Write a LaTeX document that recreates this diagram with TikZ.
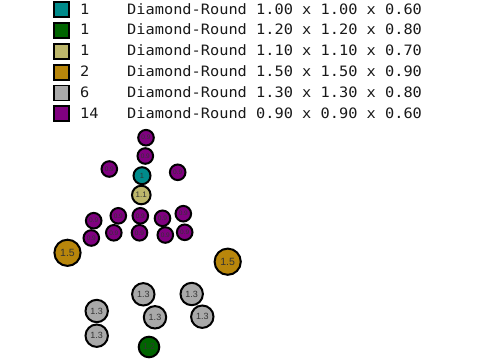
\documentclass[tikz,border=0pt]{standalone}
\usepackage{fontspec}
\setmainfont{Liberation Sans}
\newfontfamily\legendfont[FakeStretch=1.07]{DejaVu Sans Mono}
\definecolor{cteal}{RGB}{0,139,139}
\definecolor{cgreen}{RGB}{0,100,0}
\definecolor{ckhaki}{RGB}{189,183,107}
\definecolor{cgold}{RGB}{184,134,11}
\definecolor{cgray}{RGB}{169,169,169}
\definecolor{cpurple}{RGB}{128,0,128}
\tikzset{
  swatch/.style={draw=black, line width=1.8pt, minimum width=15pt, minimum height=15pt, inner sep=0pt, fill=#1},
  legtxt/.style={anchor=base west, inner sep=0pt, font=\legendfont\fontsize{14.3}{15}\selectfont, text=black!90},
  ball/.style n args={3}{circle, draw=black, line width=2pt, fill=#1, minimum size=#2, inner sep=0pt, font=\fontsize{#3}{#3}\selectfont, text=black!80},
  p/.style={ball={cpurple}{15.6pt}{6.5}},
  t/.style={ball={cteal}{17pt}{7.5}},
  k/.style={ball={ckhaki}{18.6pt}{8}},
  g/.style={ball={cgreen}{20.6pt}{8.5}},
  s/.style={ball={cgray}{22.4pt}{9}},
  o/.style={ball={cgold}{26.2pt}{10.5}},
}
\begin{document}
\begin{tikzpicture}[x=1pt,y=-1pt]
\useasboundingbox (0,0) rectangle (480,360);
% legend
\foreach \i/\c/\n/\d in {0/cteal/1/{1.00 x 1.00 x 0.60},1/cgreen/1/{1.20 x 1.20 x 0.80},2/ckhaki/1/{1.10 x 1.10 x 0.70},3/cgold/2/{1.50 x 1.50 x 0.90},4/cgray/6/{1.30 x 1.30 x 0.80},5/cpurple/14/{0.90 x 0.90 x 0.60}}{
  \node[swatch=\c] (sw\i) at (61.5,{9.8+20.8*\i}) {};
  \node[legtxt] (n\i) at (80,{14+20.8*\i}) {\n};
  \node[legtxt] (d\i) at (127,{14+20.8*\i}) {Diamond-Round \d};
}
% purple
\node[p] (p1) at (146,137.7) {0.9};
\node[p] (p2) at (145.3,156) {0.9};
\node[p] (p3) at (109.3,169) {0.9};
\node[p] (p4) at (177.7,172.3) {0.9};
\node[p] (p5) at (93.7,220.7) {0.9};
\node[p] (p6) at (118.3,215.8) {0.9};
\node[p] (p7) at (140.3,215.8) {0.9};
\node[p] (p8) at (162.5,218.3) {0.9};
\node[p] (p9) at (183.3,213.7) {0.9};
\node[p] (p10) at (91.3,238) {0.9};
\node[p] (p11) at (113.8,232.8) {0.9};
\node[p] (p12) at (139.5,232.8) {0.9};
\node[p] (p13) at (165.3,235) {0.9};
\node[p] (p14) at (184.7,232.3) {0.9};
% others
\node[t] (t1) at (142,175.7) {1};
\node[k] (k1) at (141.3,195) {1.1};
\node[o] (o1) at (67.5,252.8) {1.5};
\node[o] (o2) at (227.7,261.7) {1.5};
\node[s] (s1) at (143.3,294.3) {1.3};
\node[s] (s2) at (155,317.3) {1.3};
\node[s] (s3) at (191.7,294) {1.3};
\node[s] (s4) at (202.3,316.7) {1.3};
\node[s] (s5) at (96.7,311) {1.3};
\node[s] (s6) at (96.7,335.7) {1.3};
\node[g] (g1) at (149,347) {1.2};
\end{tikzpicture}
\end{document}
